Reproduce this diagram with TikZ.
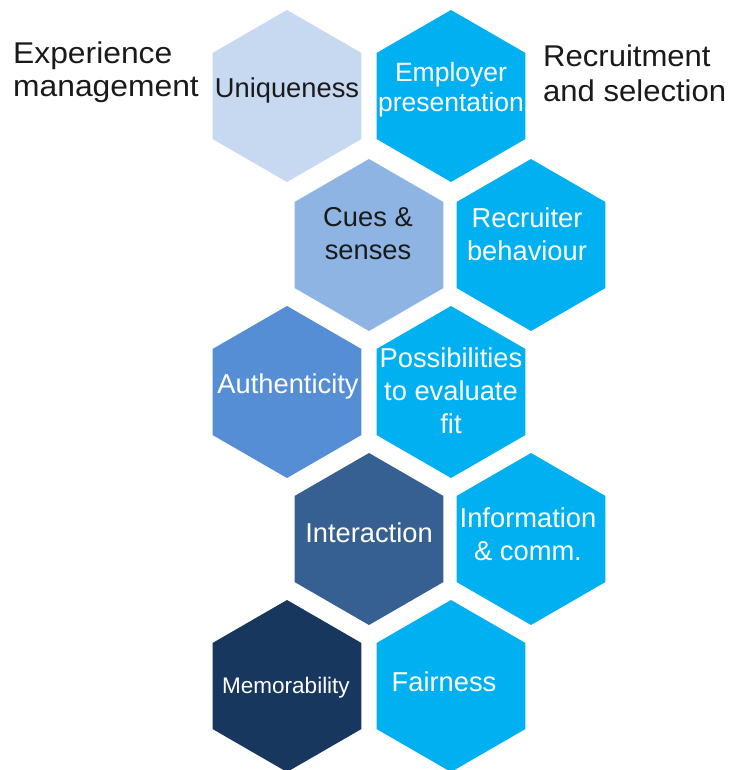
\documentclass[tikz,border=0pt]{standalone}
\usepackage{fontspec}
\setmainfont{Liberation Sans}
\newfontfamily\widesansA[FakeStretch=1.06]{Liberation Sans}
\newfontfamily\widesansB[FakeStretch=1.035]{Liberation Sans}
\usetikzlibrary{shapes.geometric}
\definecolor{hexA}{HTML}{C6D9F1}
\definecolor{hexB}{HTML}{8EB4E3}
\definecolor{hexC}{HTML}{558ED5}
\definecolor{hexD}{HTML}{376092}
\definecolor{hexE}{HTML}{17375E}
\definecolor{hexCyan}{HTML}{00B0F0}
\definecolor{txtDark}{HTML}{1A1A1A}
\tikzset{
  hexa/.style={regular polygon, regular polygon sides=6, shape border rotate=30,
    minimum size=172pt, inner sep=0pt, outer sep=0pt, draw=none},
  hextext/.style={inner sep=0pt, align=center, font=\fontsize{27.3}{33}\selectfont},
  sidetext/.style={inner sep=0pt, align=left, text=txtDark, anchor=west},
}
\begin{document}
\begin{tikzpicture}[x=1pt,y=-1pt]
\useasboundingbox[fill=white] (0,0) rectangle (729,770);
% hexagons
\node[hexa, fill=hexA]    (h1)  at (287,96)  {};
\node[hexa, fill=hexCyan] (h2)  at (451,96)  {};
\node[hexa, fill=hexB]    (h3)  at (369,245) {};
\node[hexa, fill=hexCyan] (h4)  at (531,245) {};
\node[hexa, fill=hexC]    (h5)  at (287,392) {};
\node[hexa, fill=hexCyan] (h6)  at (451,392) {};
\node[hexa, fill=hexD]    (h7)  at (369,539) {};
\node[hexa, fill=hexCyan] (h8)  at (531,539) {};
\node[hexa, fill=hexE]    (h9)  at (287,686) {};
\node[hexa, fill=hexCyan] (h10) at (451,686) {};
% labels
\node[hextext, text=txtDark] (t1) at (287,90) {Uniqueness};
\node[hextext, text=white, font=\fontsize{26.5}{30}\selectfont] (t2) at (451,90) {Employer\\presentation};
\node[hextext, text=txtDark] (t3) at (368,234) {Cues \&\\senses};
\node[hextext, text=white] (t4) at (527,234) {Recruiter\\behaviour};
\node[hextext, text=white] (t5) at (288,386) {Authenticity};
\node[hextext, text=white] (t6) at (451,391) {Possibilities\\to evaluate\\fit};
\node[hextext, text=white] (t7) at (369,533) {Interaction};
\node[hextext, text=white] (t8) at (528,534) {Information\\\& comm.};
\node[hextext, text=white, font=\fontsize{22.5}{27}\selectfont] (t9) at (286,688) {Memorability};
\node[hextext, text=white] (t10) at (444,682) {Fairness};
% side texts
\node[sidetext, font=\widesansA\fontsize{30}{33}\selectfont] (left) at (13,72) {Experience\\management};
\node[sidetext, font=\widesansB\fontsize{30}{35}\selectfont] (right) at (543,73) {Recruitment\\and selection};
\end{tikzpicture}
\end{document}
